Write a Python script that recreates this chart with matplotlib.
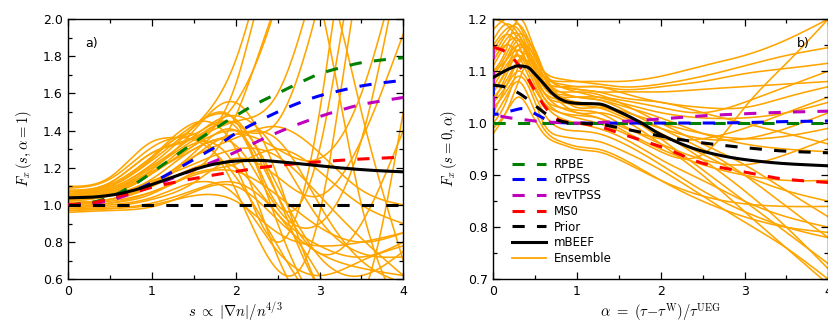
import numpy as np
import matplotlib
matplotlib.use("Agg")
import matplotlib.pyplot as plt
from matplotlib.ticker import MultipleLocator
from matplotlib.lines import Line2D

plt.rcParams["font.family"] = "DejaVu Sans"
plt.rcParams["mathtext.fontset"] = "cm"

# ---------------- panel a): F_x(s, alpha=1) ----------------
s_model = [0, 0.25, 0.5, 0.75, 1.0, 1.25, 1.5, 1.75, 2.0, 2.25, 2.5, 2.75, 3.0, 3.25, 3.5, 3.75, 4.0]
a_rpbe = [1.0, 1.011, 1.043, 1.10, 1.175, 1.255, 1.335, 1.41, 1.48, 1.545, 1.60, 1.655, 1.705, 1.738, 1.765, 1.78, 1.792]
a_otpss = [1.0, 1.006, 1.03, 1.07, 1.12, 1.18, 1.245, 1.31, 1.385, 1.445, 1.50, 1.548, 1.587, 1.615, 1.64, 1.657, 1.670]
a_revtpss = [1.0, 1.005, 1.025, 1.06, 1.10, 1.145, 1.19, 1.235, 1.285, 1.34, 1.39, 1.435, 1.475, 1.51, 1.54, 1.56, 1.578]
a_ms0 = [1.0, 1.008, 1.035, 1.065, 1.095, 1.12, 1.142, 1.162, 1.18, 1.198, 1.212, 1.223, 1.232, 1.24, 1.247, 1.252, 1.257]
a_prior = [1.0] * 17
a_mbeef = [1.038, 1.041, 1.052, 1.075, 1.11, 1.15, 1.19, 1.22, 1.236, 1.240, 1.233, 1.222, 1.210, 1.199, 1.190, 1.183, 1.178]

s_ens = [0, 0.5, 1.0, 1.5, 2.0, 2.5, 3.0, 3.5, 4.0]
a_ensemble = [
    [1.05, 1.09, 1.22, 1.42, 1.78, 2.60, 3.20, 3.00, 2.50],
    [1.04, 1.08, 1.20, 1.35, 1.55, 2.10, 2.90, 3.20, 3.00],
    [1.07, 1.12, 1.28, 1.36, 1.45, 1.60, 2.30, 3.00, 3.00],
    [1.03, 1.06, 1.17, 1.32, 1.40, 1.45, 2.10, 2.90, 3.00],
    [1.06, 1.11, 1.26, 1.43, 1.46, 1.05, 0.55, 0.40, 0.40],
    [1.09, 1.14, 1.31, 1.35, 1.15, 0.78, 0.45, 0.35, 0.40],
    [1.03, 1.07, 1.19, 1.40, 1.55, 1.15, 0.55, 0.40, 0.40],
    [1.10, 1.15, 1.34, 1.38, 1.42, 0.90, 0.45, 0.35, 0.35],
    [1.08, 1.12, 1.28, 1.36, 1.44, 1.10, 0.72, 0.62, 0.75],
    [1.00, 1.03, 1.12, 1.28, 1.40, 1.05, 0.74, 0.90, 1.40],
    [0.99, 1.01, 1.06, 1.17, 1.22, 1.30, 1.18, 1.00, 0.90],
    [1.01, 1.03, 1.10, 1.20, 1.20, 0.95, 0.78, 0.72, 0.80],
    [0.97, 0.98, 1.00, 1.05, 1.02, 0.85, 0.78, 0.80, 0.85],
    [0.96, 0.97, 0.99, 1.07, 1.10, 0.92, 0.74, 0.66, 0.62],
    [0.98, 1.00, 1.04, 1.12, 1.05, 0.75, 0.62, 0.70, 0.78],
    [1.02, 1.05, 1.13, 1.22, 1.30, 1.26, 1.05, 0.82, 0.62],
    [1.04, 1.08, 1.18, 1.30, 1.32, 0.98, 0.90, 1.35, 2.40],
    [1.05, 1.10, 1.24, 1.42, 1.45, 1.00, 1.30, 2.50, 3.00],
    [1.03, 1.06, 1.17, 1.33, 1.20, 0.80, 1.50, 2.90, 3.00],
    [1.06, 1.10, 1.25, 1.38, 1.08, 0.65, 0.95, 2.30, 3.00],
    [1.01, 1.03, 1.10, 1.26, 1.38, 1.30, 1.25, 1.60, 2.40],
    [1.01, 1.03, 1.11, 1.26, 1.36, 1.42, 1.28, 1.08, 1.00],
    [0.99, 1.01, 1.07, 1.16, 1.18, 1.05, 0.88, 0.80, 0.85],
    [1.07, 1.11, 1.26, 1.44, 1.30, 0.72, 0.40, 0.40, 0.40],
    [1.02, 1.05, 1.14, 1.30, 1.38, 1.35, 1.00, 0.70, 0.58],
    [1.04, 1.07, 1.17, 1.32, 1.65, 2.40, 2.10, 1.00, 0.40],
    [1.00, 1.02, 1.07, 1.18, 1.48, 2.10, 2.30, 1.50, 0.70],
    [0.98, 0.99, 1.03, 1.12, 1.25, 1.15, 1.05, 1.35, 1.92],
    [0.97, 0.98, 1.01, 1.08, 1.12, 0.95, 0.62, 0.50, 1.50],
    [1.05, 1.09, 1.21, 1.37, 1.48, 1.28, 0.92, 0.74, 0.72],
]

# ---------------- panel b): F_x(s=0, alpha) ----------------
alpha_model = [0, 0.1, 0.2, 0.3, 0.4, 0.5, 0.6, 0.7, 0.8, 0.9, 1.0, 1.25, 1.5, 1.75, 2.0, 2.5, 3.0, 3.5, 4.0]
b_rpbe = [1.0] * 19
b_ms0 = [1.146, 1.141, 1.130, 1.112, 1.089, 1.062, 1.035, 1.016, 1.005, 1.001, 1.0, 0.994, 0.981, 0.968, 0.955, 0.923, 0.906, 0.892, 0.886]
b_prior = [1.073, 1.071, 1.066, 1.058, 1.047, 1.034, 1.021, 1.011, 1.004, 1.001, 1.0, 0.998, 0.991, 0.983, 0.975, 0.962, 0.953, 0.946, 0.943]
b_mbeef = [1.088, 1.097, 1.105, 1.110, 1.108, 1.094, 1.076, 1.058, 1.046, 1.040, 1.038, 1.037, 1.022, 1.002, 0.978, 0.946, 0.930, 0.922, 0.918]

alpha_tpss = [0, 0.005, 0.1, 0.2, 0.35, 0.5, 0.65, 0.8, 1.0, 1.5, 2.0, 2.5, 3.0, 3.5, 4.0]
b_otpss = [1.078, 1.017, 1.018, 1.023, 1.028, 1.018, 1.006, 1.001, 1.0, 1.0, 1.0, 1.0, 1.001, 1.003, 1.004]
b_revtpss = [1.146, 1.020, 1.013, 1.010, 1.007, 1.004, 1.002, 1.001, 1.0, 1.003, 1.008, 1.014, 1.018, 1.021, 1.023]

alpha_ens = [0, 0.15, 0.3, 0.45, 0.6, 0.8, 1.0, 1.25, 1.5, 2.0, 2.5, 3.0, 3.5, 4.0]
b_ensemble = [
    [1.20, 1.19, 1.16, 1.12, 1.09, 1.08, 1.08, 1.08, 1.08, 1.09, 1.11, 1.13, 1.16, 1.20],
    [1.18, 1.20, 1.19, 1.14, 1.10, 1.085, 1.08, 1.075, 1.07, 1.075, 1.09, 1.11, 1.13, 1.145],
    [1.15, 1.18, 1.18, 1.13, 1.09, 1.075, 1.07, 1.07, 1.065, 1.07, 1.08, 1.095, 1.105, 1.115],
    [1.12, 1.16, 1.17, 1.12, 1.08, 1.07, 1.065, 1.06, 1.05, 1.04, 1.02, 1.00, 0.98, 0.96],
    [1.10, 1.14, 1.20, 1.16, 1.10, 1.07, 1.065, 1.06, 1.06, 1.06, 1.065, 1.07, 1.075, 1.08],
    [1.08, 1.12, 1.16, 1.13, 1.08, 1.06, 1.06, 1.055, 1.04, 1.00, 0.96, 0.92, 0.87, 0.82],
    [1.06, 1.10, 1.15, 1.12, 1.07, 1.055, 1.05, 1.045, 1.03, 0.99, 0.95, 0.90, 0.84, 0.78],
    [1.04, 1.09, 1.14, 1.14, 1.09, 1.06, 1.05, 1.045, 1.035, 1.01, 0.98, 0.96, 0.95, 0.945],
    [1.02, 1.07, 1.12, 1.13, 1.08, 1.05, 1.04, 1.035, 1.02, 0.98, 0.94, 0.90, 0.87, 0.85],
    [1.00, 1.04, 1.11, 1.15, 1.10, 1.05, 1.03, 1.03, 1.02, 0.97, 0.91, 0.85, 0.79, 0.73],
    [0.98, 1.02, 1.08, 1.12, 1.08, 1.04, 1.02, 1.02, 1.01, 0.96, 0.90, 0.83, 0.76, 0.69],
    [1.13, 1.17, 1.19, 1.15, 1.10, 1.07, 1.06, 1.05, 1.04, 1.02, 1.01, 1.01, 1.02, 1.04],
    [1.09, 1.13, 1.17, 1.15, 1.09, 1.05, 1.04, 1.035, 1.025, 1.00, 0.98, 0.97, 0.975, 0.99],
    [1.05, 1.08, 1.12, 1.11, 1.06, 1.04, 1.035, 1.03, 1.015, 0.98, 0.93, 0.87, 0.80, 0.72],
    [1.11, 1.15, 1.16, 1.11, 1.06, 1.03, 1.02, 1.01, 0.99, 0.95, 0.92, 0.90, 0.89, 0.89],
    [1.07, 1.11, 1.13, 1.09, 1.04, 1.01, 1.00, 0.99, 0.975, 0.93, 0.89, 0.85, 0.82, 0.80],
    [1.03, 1.06, 1.09, 1.06, 1.00, 0.975, 0.97, 0.965, 0.95, 0.91, 0.86, 0.81, 0.76, 0.70],
    [1.01, 1.05, 1.08, 1.04, 0.99, 0.965, 0.955, 0.95, 0.935, 0.89, 0.85, 0.82, 0.80, 0.79],
    [0.99, 1.02, 1.05, 1.02, 0.98, 0.96, 0.95, 0.945, 0.93, 0.89, 0.86, 0.845, 0.84, 0.84],
    [1.16, 1.19, 1.17, 1.12, 1.08, 1.07, 1.07, 1.07, 1.06, 1.04, 1.03, 1.03, 1.05, 1.07],
    [1.14, 1.17, 1.15, 1.10, 1.06, 1.045, 1.04, 1.035, 1.02, 0.99, 0.97, 0.97, 0.99, 1.02],
    [1.10, 1.12, 1.14, 1.10, 1.05, 1.03, 1.025, 1.02, 1.00, 0.96, 0.93, 0.92, 0.94, 0.97],
    [1.06, 1.10, 1.13, 1.10, 1.05, 1.02, 1.01, 1.00, 0.985, 0.945, 0.94, 1.03, 1.115, 1.20],
    [1.04, 1.07, 1.10, 1.07, 1.02, 0.99, 0.985, 0.98, 0.965, 0.92, 0.87, 0.83, 0.80, 0.78],
    [1.08, 1.12, 1.15, 1.12, 1.07, 1.05, 1.05, 1.05, 1.045, 1.03, 1.02, 1.04, 1.07, 1.10],
    [1.12, 1.15, 1.13, 1.08, 1.04, 1.02, 1.015, 1.01, 0.995, 0.97, 0.97, 0.99, 1.02, 1.05],
]

ENS_COLOR = "#FFA500"
DASH = (0, (4, 4))
models_a = [
    ("RPBE", a_rpbe, "#008000", DASH),
    ("oTPSS", a_otpss, "#0000FF", DASH),
    ("revTPSS", a_revtpss, "#BF00BF", DASH),
    ("MS0", a_ms0, "#FF0000", DASH),
    ("Prior", a_prior, "black", DASH),
    ("mBEEF", a_mbeef, "black", "-"),
]


def pchip(x, y, n=500):
    """Shape-preserving cubic through the given samples (for smooth drawing)."""
    x = np.asarray(x, float)
    y = np.asarray(y, float)
    h = np.diff(x)
    d = np.diff(y) / h
    m = np.zeros_like(y)
    for k in range(1, len(x) - 1):
        if d[k - 1] * d[k] > 0:
            w1 = 2 * h[k] + h[k - 1]
            w2 = h[k] + 2 * h[k - 1]
            m[k] = (w1 + w2) / (w1 / d[k - 1] + w2 / d[k])
    m[0] = d[0]
    m[-1] = d[-1]
    return hermite(x, y, m, n)


def spline(x, y, n=500):
    """Natural cubic spline through the given samples (for smooth drawing)."""
    x = np.asarray(x, float)
    y = np.asarray(y, float)
    N = len(x)
    h = np.diff(x)
    A = np.zeros((N, N))
    r = np.zeros(N)
    A[0, 0] = A[-1, -1] = 1.0
    for k in range(1, N - 1):
        A[k, k - 1] = h[k - 1]
        A[k, k] = 2 * (h[k - 1] + h[k])
        A[k, k + 1] = h[k]
        r[k] = 6 * ((y[k + 1] - y[k]) / h[k] - (y[k] - y[k - 1]) / h[k - 1])
    M = np.linalg.solve(A, r)
    xs = np.linspace(x[0], x[-1], n)
    i = np.clip(np.searchsorted(x, xs) - 1, 0, N - 2)
    a = x[i + 1] - xs
    b = xs - x[i]
    hi = h[i]
    ys = (M[i] * a**3 + M[i + 1] * b**3) / (6 * hi) \
        + (y[i] / hi - M[i] * hi / 6) * a + (y[i + 1] / hi - M[i + 1] * hi / 6) * b
    return xs, ys


def hermite(x, y, m, n):
    h = np.diff(x)
    xs = np.linspace(x[0], x[-1], n)
    i = np.clip(np.searchsorted(x, xs) - 1, 0, len(x) - 2)
    t = (xs - x[i]) / h[i]
    h00 = 2 * t**3 - 3 * t**2 + 1
    h10 = t**3 - 2 * t**2 + t
    h01 = -2 * t**3 + 3 * t**2
    h11 = t**3 - t**2
    ys = h00 * y[i] + h10 * h[i] * m[i] + h01 * y[i + 1] + h11 * h[i] * m[i + 1]
    return xs, ys


fig = plt.figure(figsize=(8.29, 3.25), dpi=100)
W, H = 829.0, 325.0
axA = fig.add_axes([68.3 / W, (H - 279.3) / H, 335 / W, 260.3 / H])
axB = fig.add_axes([493.3 / W, (H - 279.3) / H, 335 / W, 260.3 / H])

# panel a
for curve in a_ensemble:
    xs, ys = spline(s_ens, curve)
    axA.plot(xs, ys, color=ENS_COLOR, lw=1.15, zorder=1)
for name, vals, col, ls in models_a:
    xs, ys = pchip(s_model, vals)
    axA.plot(xs, ys, color=col, ls=ls, lw=2.2, zorder=3)

# panel b
for curve in b_ensemble:
    xs, ys = spline(alpha_ens, curve)
    axB.plot(xs, ys, color=ENS_COLOR, lw=1.15, zorder=1)
models_b = [
    ("RPBE", alpha_model, b_rpbe, "#008000", DASH),
    ("oTPSS", alpha_tpss, b_otpss, "#0000FF", DASH),
    ("revTPSS", alpha_tpss, b_revtpss, "#BF00BF", DASH),
    ("MS0", alpha_model, b_ms0, "#FF0000", DASH),
    ("Prior", alpha_model, b_prior, "black", DASH),
    ("mBEEF", alpha_model, b_mbeef, "black", "-"),
]
handles = []
for name, xv, vals, col, ls in models_b:
    xs, ys = pchip(xv, vals, 800)
    ln, = axB.plot(xs, ys, color=col, ls=ls, lw=2.2, zorder=3, label=name)
    handles.append(ln)
handles.append(Line2D([], [], color=ENS_COLOR, lw=1.3, label="Ensemble"))

axB.legend(handles=handles, loc="lower left", bbox_to_anchor=(0.03, 0.023),
           frameon=False, fontsize=8.5, handlelength=2.9, handletextpad=0.7,
           labelspacing=0.23, borderaxespad=0.3)

# axes styling
for ax in (axA, axB):
    ax.set_xlim(0, 4)
    ax.xaxis.set_major_locator(MultipleLocator(1))
    ax.xaxis.set_minor_locator(MultipleLocator(0.5))
    ax.tick_params(which="both", direction="in", top=True, right=True,
                   labelsize=9, pad=4)
    ax.tick_params(which="major", length=5, width=0.9)
    ax.tick_params(which="minor", length=3, width=0.9)
    for sp in ax.spines.values():
        sp.set_linewidth(1.0)

axA.set_ylim(0.6, 2.0)
axA.yaxis.set_major_locator(MultipleLocator(0.2))
axA.yaxis.set_minor_locator(MultipleLocator(0.1))
axB.set_ylim(0.7, 1.2)
axB.yaxis.set_major_locator(MultipleLocator(0.1))
axB.yaxis.set_minor_locator(MultipleLocator(0.05))

axA.set_xlabel(r"$s\ \propto\ |\nabla n|/n^{4/3}$", fontsize=10.5, labelpad=2)
axA.set_ylabel(r"$F_x\,(s,\alpha{=}1)$", fontsize=10.5, labelpad=6)
axB.set_xlabel(r"$\alpha\ =\ (\tau{-}\tau^{\rm W})/\tau^{\rm UEG}$", fontsize=10.5, labelpad=2)
axB.set_ylabel(r"$F_x\,(s{=}0,\alpha)$", fontsize=10.5, labelpad=6)

axA.text(0.05, 0.93, "a)", transform=axA.transAxes, fontsize=9, va="top", ha="left")
axB.text(0.905, 0.93, "b)", transform=axB.transAxes, fontsize=9, va="top", ha="left")

fig.savefig("out.png", dpi=100)
